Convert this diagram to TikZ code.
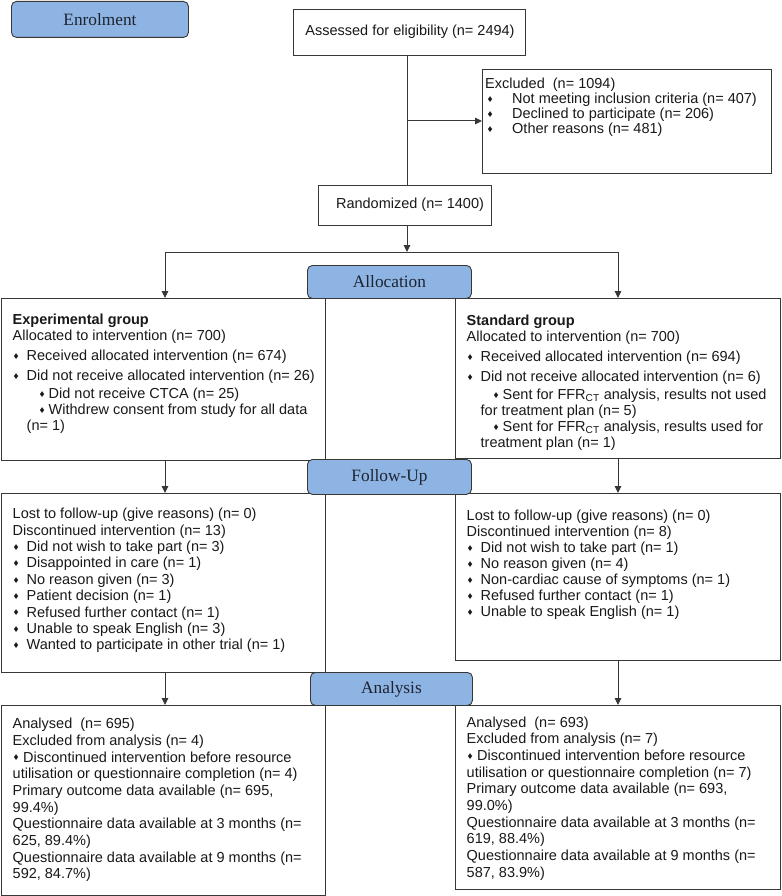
\documentclass[tikz,border=0pt]{standalone}
\usepackage{fontspec}
\setmainfont{Liberation Sans}
\newfontfamily\phasefont{Liberation Serif}
\usetikzlibrary{arrows.meta}
\definecolor{phaseblue}{RGB}{141,180,226}
\definecolor{edgegray}{RGB}{55,55,55}
\definecolor{inkgray}{RGB}{25,25,25}
\definecolor{phaseink}{RGB}{30,35,50}
\newcommand\bul{\makebox[0pt][c]{\raisebox{0.08em}{\fontsize{10}{10}\selectfont ♦}}}
\newcommand\bi{\hspace*{3.5pt}\bul\hspace*{10.5pt}}
\newcommand\sbi{\hspace*{29.5pt}\bul\hspace*{6.5pt}}
\newcommand\ci{\hspace*{14pt}}
\newcommand\abi{\hspace*{3.5pt}\bul\hspace*{7pt}}
\newcommand\ebi{\hspace*{5pt}\bul\hspace*{22pt}}
\newcommand\fst{\rule{0pt}{11pt}}
\begin{document}
\begin{tikzpicture}[x=1pt,y=-1pt,
  box/.style={draw=edgegray, line width=0.9pt, fill=white, anchor=north west, inner sep=0pt},
  phase/.style={draw=edgegray, line width=0.9pt, fill=phaseblue, rounded corners=5pt, anchor=north west, inner sep=0pt, font=\phasefont\fontsize{17.3}{20}\selectfont, text=phaseink},
  txt/.style={anchor=north west, inner sep=0pt, align=left, text=inkgray, font=\fontsize{14.5}{16}\selectfont},
  ctxt/.style={inner sep=0pt, text=inkgray, font=\fontsize{14.5}{16}\selectfont},
  conn/.style={draw=edgegray, line width=1pt},
  arr/.style={conn, -{Triangle[length=7pt,width=6.5pt]}}
]
\useasboundingbox (0,0) rectangle (781,896);

% enrolment stage
\node[phase, minimum width=177pt, minimum height=36pt] (enr) at (11,1) {Enrolment};
\node[box, minimum width=232pt, minimum height=46pt] (ass) at (293,9) {};
\node[ctxt] (asst) at (410,32) {Assessed for eligibility (n= 2494)};
\node[box, minimum width=289pt, minimum height=104pt] (exc) at (482,69) {};
\node[txt, font=\fontsize{14.5}{15}\selectfont] (exct) at (485,77) {\fst Excluded\ \ (n= 1094)\\
\ebi Not meeting inclusion criteria (n= 407)\\
\ebi Declined to participate (n= 206)\\
\ebi Other reasons (n= 481)};
\node[box, minimum width=173pt, minimum height=40pt] (rand) at (318,185) {};
\node[ctxt] (randt) at (410,205) {Randomized (n= 1400)};

\coordinate (jv) at (407,121);
\coordinate (split) at (407,252);
\coordinate (sl) at (165,252);
\coordinate (sr) at (618,252);

\draw[conn] (ass.south -| jv) -- (rand.north -| jv);
\draw[arr] (jv) -- (exc.west |- jv);
\draw[arr] (rand.south -| split) -- (split);
\draw[conn] (sl) -- (sr);

% allocation
\node[box, minimum width=324pt, minimum height=162pt] (exp) at (1,298) {};
\node[box, minimum width=325pt, minimum height=160pt] (std) at (455,298) {};
\node[txt] (expt) at (12.5,313) {\fst\textbf{Experimental group}\\
Allocated to intervention (n= 700)\\[4pt]
\bi Received allocated intervention (n= 674)\\[4pt]
\bi Did not receive allocated intervention (n= 26)\\[2pt]
\sbi Did not receive CTCA (n= 25)\\
\sbi Withdrew consent from study for all data\\
\ci (n= 1)};
\node[txt] (stdt) at (466.5,314) {\fst\textbf{Standard group}\\
Allocated to intervention (n= 700)\\[4pt]
\bi Received allocated intervention (n= 694)\\[4pt]
\bi Did not receive allocated intervention (n= 6)\\[2pt]
\sbi Sent for FFR\textsubscript{CT} analysis, results not used\\
\ci for treatment plan (n= 5)\\
\sbi Sent for FFR\textsubscript{CT} analysis, results used for\\
\ci treatment plan (n= 1)};
\draw[arr] (sl) -- (sl |- exp.north);
\draw[arr] (sr) -- (sr |- std.north);

% follow-up
\node[box, minimum width=324pt, minimum height=179pt] (fl) at (1,493) {};
\node[box, minimum width=325pt, minimum height=167pt] (fr) at (455,493) {};
\node[txt, font=\fontsize{14.5}{16.4}\selectfont] (flt) at (12.5,507.5) {\fst Lost to follow-up (give reasons) (n= 0)\\
Discontinued intervention (n= 13)\\
\bi Did not wish to take part (n= 3)\\
\bi Disappointed in care (n= 1)\\
\bi No reason given (n= 3)\\
\bi Patient decision (n= 1)\\
\bi Refused further contact (n= 1)\\
\bi Unable to speak English (n= 3)\\
\bi Wanted to participate in other trial (n= 1)};
\node[txt, font=\fontsize{14.5}{16.0}\selectfont] (frt) at (466.5,509) {\fst Lost to follow-up (give reasons) (n= 0)\\
Discontinued intervention (n= 8)\\
\bi Did not wish to take part (n= 1)\\
\bi No reason given (n= 4)\\
\bi Non-cardiac cause of symptoms (n= 1)\\
\bi Refused further contact (n= 1)\\
\bi Unable to speak English (n= 1)};
\draw[arr] (sl |- exp.south) -- (sl |- fl.north);
\draw[arr] (sr |- std.south) -- (sr |- fr.north);

% analysis
\node[box, minimum width=324pt, minimum height=190pt] (al) at (1,705) {};
\node[box, minimum width=325pt, minimum height=184pt] (ar) at (455,705) {};
\node[txt, font=\fontsize{14.5}{16.67}\selectfont] (alt) at (12.5,717.5) {\fst Analysed\ \ (n= 695)\\
Excluded from analysis (n= 4)\\
\abi Discontinued intervention before resource\\
utilisation or questionnaire completion (n= 4)\\
Primary outcome data available (n= 695,\\
99.4\%)\\
Questionnaire data available at 3 months (n=\\
625, 89.4\%)\\
Questionnaire data available at 9 months (n=\\
592, 84.7\%)};
\node[txt, font=\fontsize{14.5}{16.67}\selectfont] (art) at (466.5,716) {\fst Analysed\ \ (n= 693)\\
Excluded from analysis (n= 7)\\
\abi Discontinued intervention before resource\\
utilisation or questionnaire completion (n= 7)\\
Primary outcome data available (n= 693,\\
99.0\%)\\
Questionnaire data available at 3 months (n=\\
619, 88.4\%)\\
Questionnaire data available at 9 months (n=\\
587, 83.9\%)};
\draw[arr] (sl |- fl.south) -- (sl |- al.north);
\draw[arr] (sr |- fr.south) -- (sr |- ar.north);

% phase labels on top
\node[phase, minimum width=164pt, minimum height=33pt] (alloc) at (307,265) {Allocation};
\node[phase, minimum width=164pt, minimum height=35pt] (fup) at (307,459) {Follow-Up};
\node[phase, minimum width=162pt, minimum height=33pt] (ana) at (310,672) {Analysis};
\end{tikzpicture}
\end{document}
